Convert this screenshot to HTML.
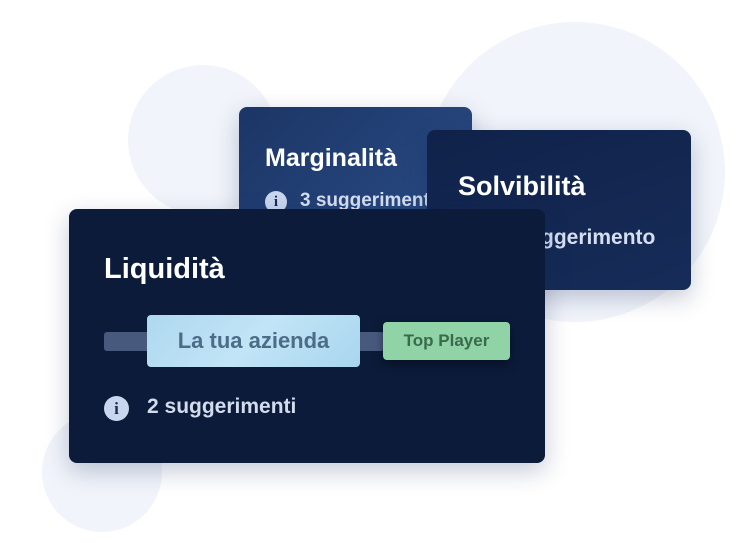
<!DOCTYPE html>
<html><head><meta charset="utf-8"><style>
body{margin:0;width:750px;height:543px;background:#fff;position:relative;overflow:hidden;font-family:"Liberation Sans",sans-serif;font-weight:bold}
.c{position:absolute;border-radius:50%;background:#f1f4fa}
.card{position:absolute;border-radius:8px;box-shadow:0 8px 24px rgba(20,40,90,.25);overflow:hidden}
.t{position:absolute;color:#fff;white-space:nowrap}
.i{position:absolute;border-radius:50%;background:#c8d6ee;color:#1a2a50;text-align:center;font-size:15px;font-family:"Liberation Serif",serif}
</style></head><body>
<div class="c" style="left:425px;top:22px;width:300px;height:300px"></div>
<div class="c" style="left:128px;top:65px;width:150px;height:150px"></div>
<div class="c" style="left:42px;top:412px;width:120px;height:120px"></div>

<div class="card" style="left:239px;top:107px;width:233px;height:140px;background:linear-gradient(135deg,#1c3566,#2a4d86)">
 <div class="t" style="left:26px;top:37px;font-size:25px">Marginalità</div>
 <div class="t" style="left:26px;top:84px;width:22px;height:22px;line-height:22px;border-radius:50%;background:#c8d6ee;color:#1a2a50;text-align:center;font-size:15px;font-family:'Liberation Serif',serif">i</div>
 <div class="t" style="left:61px;top:83px;font-size:19px;color:#d6dff0">3 suggerimenti</div>
</div>

<div class="card" style="left:427px;top:130px;width:264px;height:160px;background:linear-gradient(160deg,#10224a,#162c58)">
 <div class="t" style="left:31px;top:41px;font-size:27px">Solvibilità</div>
 <div class="t" style="left:72px;top:96px;font-size:21px;color:#d6dff0">1 suggerimento</div>
</div>

<div class="card" style="left:69px;top:209px;width:476px;height:254px;background:#0c1b3a">
 <div class="t" style="left:35px;top:44px;font-size:29px">Liquidità</div>
 <div style="position:absolute;left:35px;top:123px;width:280px;height:19px;background:#475a7e;border-radius:3px"></div>
 <div style="position:absolute;left:78px;top:106px;width:213px;height:52px;background:linear-gradient(135deg,#aed8f0,#c2e4f6,#a8d6ef);border-radius:4px;color:#4d6c87;font-size:22px;text-align:center;line-height:52px">La tua azienda</div>
 <div style="position:absolute;left:314px;top:113px;width:127px;height:38px;background:#8fd3a6;border-radius:4px;color:#3a6a4c;font-size:17px;text-align:center;line-height:38px;box-shadow:0 4px 10px rgba(0,0,0,.4)">Top Player</div>
 <div class="i" style="left:35px;top:187px;width:25px;height:25px;line-height:25px;font-size:17px">i</div>
 <div class="t" style="left:78px;top:186px;font-size:21px;color:#d3dcec">2 suggerimenti</div>
</div>
</body></html>
